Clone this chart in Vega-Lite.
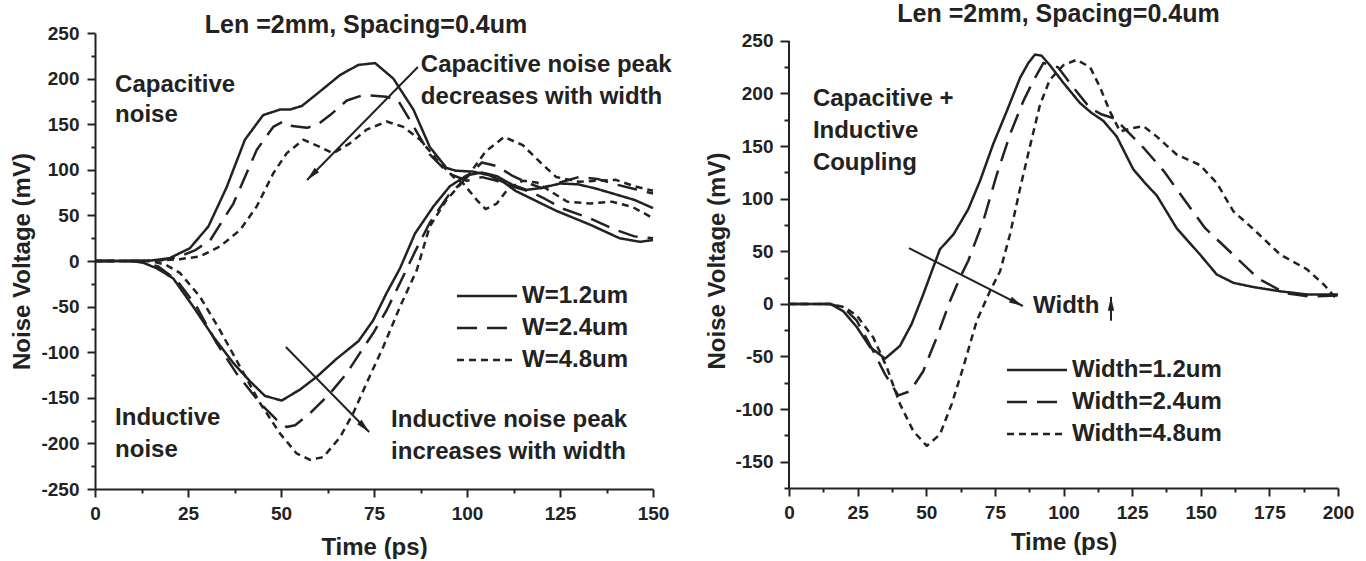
{
  "$schema": "https://vega.github.io/schema/vega-lite/v6.json",
  "background": "white",
  "padding": {"left": 10, "top": 1, "right": 0, "bottom": 0},
  "spacing": 33,
  "config": {
    "view": {"stroke": null},
    "font": "Liberation Sans",
    "axis": {"domainColor": "#222", "domainWidth": 2, "tickColor": "#222", "tickWidth": 2, "labelColor": "#222", "labelFont": "Liberation Sans", "labelFontWeight": "bold", "labelFontSize": 19, "titleColor": "#222", "titleFont": "Liberation Sans", "titleFontWeight": "bold", "titleFontSize": 24, "grid": false, "labelOverlap": false, "labelBound": false, "labelFlush": false},
    "title": {"font": "Liberation Sans", "fontSize": 25, "fontWeight": "bold", "color": "#222", "anchor": "middle"},
    "legend": {"symbolType": "M-1,0H5", "symbolSize": 400, "symbolStrokeWidth": 2.5, "symbolStrokeColor": "#222", "symbolFillColor": "transparent", "labelFont": "Liberation Sans", "labelFontSize": 24, "labelFontWeight": "bold", "labelColor": "#222", "labelOffset": 43, "rowPadding": 8, "padding": 0, "orient": "none"}
  },
  "datasets": {
    "left": [
      {"t":0,"v":0,"s":"W=1.2um","c":"cap"},{"t":10,"v":0,"s":"W=1.2um","c":"cap"},{"t":15,"v":0.5,"s":"W=1.2um","c":"cap"},{"t":20,"v":3,"s":"W=1.2um","c":"cap"},{"t":25.5,"v":14,"s":"W=1.2um","c":"cap"},{"t":30.5,"v":38,"s":"W=1.2um","c":"cap"},{"t":35.4,"v":81,"s":"W=1.2um","c":"cap"},{"t":40.3,"v":133,"s":"W=1.2um","c":"cap"},{"t":45.2,"v":160,"s":"W=1.2um","c":"cap"},{"t":49.7,"v":166,"s":"W=1.2um","c":"cap"},{"t":52.4,"v":166,"s":"W=1.2um","c":"cap"},{"t":55.6,"v":170,"s":"W=1.2um","c":"cap"},{"t":60.5,"v":186,"s":"W=1.2um","c":"cap"},{"t":65.9,"v":204,"s":"W=1.2um","c":"cap"},{"t":70.8,"v":215,"s":"W=1.2um","c":"cap"},{"t":75.3,"v":217,"s":"W=1.2um","c":"cap"},{"t":80.2,"v":200,"s":"W=1.2um","c":"cap"},{"t":85.6,"v":166,"s":"W=1.2um","c":"cap"},{"t":90,"v":125,"s":"W=1.2um","c":"cap"},{"t":94.5,"v":102,"s":"W=1.2um","c":"cap"},{"t":97,"v":99,"s":"W=1.2um","c":"cap"},{"t":101.6,"v":98,"s":"W=1.2um","c":"cap"},{"t":106,"v":94,"s":"W=1.2um","c":"cap"},{"t":110,"v":86,"s":"W=1.2um","c":"cap"},{"t":113,"v":77,"s":"W=1.2um","c":"cap"},{"t":117,"v":69,"s":"W=1.2um","c":"cap"},{"t":124,"v":55,"s":"W=1.2um","c":"cap"},{"t":133,"v":40,"s":"W=1.2um","c":"cap"},{"t":141,"v":25,"s":"W=1.2um","c":"cap"},{"t":146.5,"v":21,"s":"W=1.2um","c":"cap"},{"t":150,"v":23,"s":"W=1.2um","c":"cap"},
      {"t":0,"v":0,"s":"W=1.2um","c":"ind"},{"t":10,"v":0,"s":"W=1.2um","c":"ind"},{"t":13,"v":-2,"s":"W=1.2um","c":"ind"},{"t":16.6,"v":-8,"s":"W=1.2um","c":"ind"},{"t":21,"v":-19,"s":"W=1.2um","c":"ind"},{"t":26.4,"v":-50,"s":"W=1.2um","c":"ind"},{"t":31.8,"v":-83,"s":"W=1.2um","c":"ind"},{"t":37.2,"v":-112,"s":"W=1.2um","c":"ind"},{"t":41.7,"v":-132,"s":"W=1.2um","c":"ind"},{"t":45.7,"v":-148,"s":"W=1.2um","c":"ind"},{"t":50.2,"v":-153,"s":"W=1.2um","c":"ind"},{"t":55.1,"v":-141,"s":"W=1.2um","c":"ind"},{"t":59.6,"v":-127,"s":"W=1.2um","c":"ind"},{"t":65,"v":-107,"s":"W=1.2um","c":"ind"},{"t":70.8,"v":-88,"s":"W=1.2um","c":"ind"},{"t":74.8,"v":-65,"s":"W=1.2um","c":"ind"},{"t":78.4,"v":-35,"s":"W=1.2um","c":"ind"},{"t":82,"v":-8,"s":"W=1.2um","c":"ind"},{"t":86,"v":30,"s":"W=1.2um","c":"ind"},{"t":91,"v":60,"s":"W=1.2um","c":"ind"},{"t":95.4,"v":82,"s":"W=1.2um","c":"ind"},{"t":100,"v":94,"s":"W=1.2um","c":"ind"},{"t":104,"v":97,"s":"W=1.2um","c":"ind"},{"t":108,"v":93,"s":"W=1.2um","c":"ind"},{"t":112,"v":84,"s":"W=1.2um","c":"ind"},{"t":116,"v":78,"s":"W=1.2um","c":"ind"},{"t":120,"v":80,"s":"W=1.2um","c":"ind"},{"t":125,"v":85,"s":"W=1.2um","c":"ind"},{"t":130,"v":84,"s":"W=1.2um","c":"ind"},{"t":135,"v":79,"s":"W=1.2um","c":"ind"},{"t":140,"v":73,"s":"W=1.2um","c":"ind"},{"t":145,"v":67,"s":"W=1.2um","c":"ind"},{"t":150,"v":58,"s":"W=1.2um","c":"ind"},
      {"t":0,"v":0,"s":"W=2.4um","c":"cap"},{"t":12,"v":0,"s":"W=2.4um","c":"cap"},{"t":18,"v":1,"s":"W=2.4um","c":"cap"},{"t":22.8,"v":5,"s":"W=2.4um","c":"cap"},{"t":27,"v":12,"s":"W=2.4um","c":"cap"},{"t":31,"v":23,"s":"W=2.4um","c":"cap"},{"t":37.2,"v":63,"s":"W=2.4um","c":"cap"},{"t":43.5,"v":122,"s":"W=2.4um","c":"cap"},{"t":47.9,"v":147,"s":"W=2.4um","c":"cap"},{"t":50.6,"v":153,"s":"W=2.4um","c":"cap"},{"t":53,"v":148,"s":"W=2.4um","c":"cap"},{"t":57,"v":146,"s":"W=2.4um","c":"cap"},{"t":60,"v":150,"s":"W=2.4um","c":"cap"},{"t":63.2,"v":160,"s":"W=2.4um","c":"cap"},{"t":67.7,"v":176,"s":"W=2.4um","c":"cap"},{"t":72.1,"v":182,"s":"W=2.4um","c":"cap"},{"t":78.4,"v":180,"s":"W=2.4um","c":"cap"},{"t":81.5,"v":176,"s":"W=2.4um","c":"cap"},{"t":85,"v":152,"s":"W=2.4um","c":"cap"},{"t":90,"v":117,"s":"W=2.4um","c":"cap"},{"t":95,"v":96,"s":"W=2.4um","c":"cap"},{"t":100,"v":88,"s":"W=2.4um","c":"cap"},{"t":104,"v":92,"s":"W=2.4um","c":"cap"},{"t":108,"v":88,"s":"W=2.4um","c":"cap"},{"t":112,"v":82,"s":"W=2.4um","c":"cap"},{"t":117,"v":76,"s":"W=2.4um","c":"cap"},{"t":121,"v":68,"s":"W=2.4um","c":"cap"},{"t":126,"v":57,"s":"W=2.4um","c":"cap"},{"t":133,"v":47,"s":"W=2.4um","c":"cap"},{"t":140,"v":34,"s":"W=2.4um","c":"cap"},{"t":145,"v":27,"s":"W=2.4um","c":"cap"},{"t":150,"v":25,"s":"W=2.4um","c":"cap"},
      {"t":0,"v":0,"s":"W=2.4um","c":"ind"},{"t":12,"v":0,"s":"W=2.4um","c":"ind"},{"t":17,"v":-6,"s":"W=2.4um","c":"ind"},{"t":22,"v":-21,"s":"W=2.4um","c":"ind"},{"t":27.3,"v":-50,"s":"W=2.4um","c":"ind"},{"t":32.7,"v":-90,"s":"W=2.4um","c":"ind"},{"t":38,"v":-123,"s":"W=2.4um","c":"ind"},{"t":44.4,"v":-156,"s":"W=2.4um","c":"ind"},{"t":48.8,"v":-174,"s":"W=2.4um","c":"ind"},{"t":51.5,"v":-182,"s":"W=2.4um","c":"ind"},{"t":53.8,"v":-180,"s":"W=2.4um","c":"ind"},{"t":57.8,"v":-167,"s":"W=2.4um","c":"ind"},{"t":63.2,"v":-145,"s":"W=2.4um","c":"ind"},{"t":67.7,"v":-123,"s":"W=2.4um","c":"ind"},{"t":71.2,"v":-101,"s":"W=2.4um","c":"ind"},{"t":74.8,"v":-79,"s":"W=2.4um","c":"ind"},{"t":78.4,"v":-54,"s":"W=2.4um","c":"ind"},{"t":82,"v":-24,"s":"W=2.4um","c":"ind"},{"t":86,"v":10,"s":"W=2.4um","c":"ind"},{"t":90,"v":42,"s":"W=2.4um","c":"ind"},{"t":95,"v":72,"s":"W=2.4um","c":"ind"},{"t":100,"v":92,"s":"W=2.4um","c":"ind"},{"t":104,"v":108,"s":"W=2.4um","c":"ind"},{"t":108,"v":104,"s":"W=2.4um","c":"ind"},{"t":112,"v":94,"s":"W=2.4um","c":"ind"},{"t":116,"v":86,"s":"W=2.4um","c":"ind"},{"t":120,"v":80,"s":"W=2.4um","c":"ind"},{"t":125,"v":86,"s":"W=2.4um","c":"ind"},{"t":130,"v":92,"s":"W=2.4um","c":"ind"},{"t":135,"v":90,"s":"W=2.4um","c":"ind"},{"t":140,"v":84,"s":"W=2.4um","c":"ind"},{"t":145,"v":79,"s":"W=2.4um","c":"ind"},{"t":150,"v":74,"s":"W=2.4um","c":"ind"},
      {"t":0,"v":0,"s":"W=4.8um","c":"cap"},{"t":15,"v":0,"s":"W=4.8um","c":"cap"},{"t":22.8,"v":2,"s":"W=4.8um","c":"cap"},{"t":28.2,"v":5,"s":"W=4.8um","c":"cap"},{"t":33.6,"v":16,"s":"W=4.8um","c":"cap"},{"t":39,"v":34,"s":"W=4.8um","c":"cap"},{"t":43.5,"v":60,"s":"W=4.8um","c":"cap"},{"t":47.9,"v":96,"s":"W=4.8um","c":"cap"},{"t":51.5,"v":118,"s":"W=4.8um","c":"cap"},{"t":56,"v":133,"s":"W=4.8um","c":"cap"},{"t":60.5,"v":125,"s":"W=4.8um","c":"cap"},{"t":64,"v":118,"s":"W=4.8um","c":"cap"},{"t":68.5,"v":129,"s":"W=4.8um","c":"cap"},{"t":73,"v":144,"s":"W=4.8um","c":"cap"},{"t":78.4,"v":153,"s":"W=4.8um","c":"cap"},{"t":82.9,"v":147,"s":"W=4.8um","c":"cap"},{"t":87.4,"v":133,"s":"W=4.8um","c":"cap"},{"t":91.9,"v":111,"s":"W=4.8um","c":"cap"},{"t":96.4,"v":92,"s":"W=4.8um","c":"cap"},{"t":99,"v":85,"s":"W=4.8um","c":"cap"},{"t":102.6,"v":67,"s":"W=4.8um","c":"cap"},{"t":105,"v":57,"s":"W=4.8um","c":"cap"},{"t":108,"v":63,"s":"W=4.8um","c":"cap"},{"t":111,"v":79,"s":"W=4.8um","c":"cap"},{"t":115,"v":88,"s":"W=4.8um","c":"cap"},{"t":118.8,"v":86,"s":"W=4.8um","c":"cap"},{"t":123,"v":75,"s":"W=4.8um","c":"cap"},{"t":127,"v":65,"s":"W=4.8um","c":"cap"},{"t":133,"v":63,"s":"W=4.8um","c":"cap"},{"t":139,"v":65,"s":"W=4.8um","c":"cap"},{"t":144.6,"v":59,"s":"W=4.8um","c":"cap"},{"t":150,"v":47,"s":"W=4.8um","c":"cap"},
      {"t":0,"v":0,"s":"W=4.8um","c":"ind"},{"t":15,"v":0,"s":"W=4.8um","c":"ind"},{"t":19,"v":-4,"s":"W=4.8um","c":"ind"},{"t":22.8,"v":-13,"s":"W=4.8um","c":"ind"},{"t":28.2,"v":-39,"s":"W=4.8um","c":"ind"},{"t":33.6,"v":-76,"s":"W=4.8um","c":"ind"},{"t":39,"v":-116,"s":"W=4.8um","c":"ind"},{"t":44.4,"v":-156,"s":"W=4.8um","c":"ind"},{"t":49.7,"v":-189,"s":"W=4.8um","c":"ind"},{"t":54.2,"v":-211,"s":"W=4.8um","c":"ind"},{"t":57.8,"v":-218,"s":"W=4.8um","c":"ind"},{"t":61.4,"v":-215,"s":"W=4.8um","c":"ind"},{"t":65.9,"v":-193,"s":"W=4.8um","c":"ind"},{"t":69.4,"v":-167,"s":"W=4.8um","c":"ind"},{"t":73,"v":-134,"s":"W=4.8um","c":"ind"},{"t":77.5,"v":-94,"s":"W=4.8um","c":"ind"},{"t":82,"v":-50,"s":"W=4.8um","c":"ind"},{"t":86.5,"v":-10,"s":"W=4.8um","c":"ind"},{"t":90,"v":38,"s":"W=4.8um","c":"ind"},{"t":94.5,"v":67,"s":"W=4.8um","c":"ind"},{"t":100,"v":92,"s":"W=4.8um","c":"ind"},{"t":105,"v":120,"s":"W=4.8um","c":"ind"},{"t":110,"v":136,"s":"W=4.8um","c":"ind"},{"t":115,"v":127,"s":"W=4.8um","c":"ind"},{"t":120,"v":107,"s":"W=4.8um","c":"ind"},{"t":124,"v":92,"s":"W=4.8um","c":"ind"},{"t":130,"v":87,"s":"W=4.8um","c":"ind"},{"t":135,"v":88,"s":"W=4.8um","c":"ind"},{"t":140,"v":89,"s":"W=4.8um","c":"ind"},{"t":145,"v":82,"s":"W=4.8um","c":"ind"},{"t":150,"v":77,"s":"W=4.8um","c":"ind"}
    ],
    "leftText": [
      {"t":5.4,"v":193,"txt":"Capacitive"},{"t":5.4,"v":160,"txt":"noise"},
      {"t":5.4,"v":-172,"txt":"Inductive"},{"t":5.4,"v":-207,"txt":"noise"},
      {"t":87.6,"v":215,"txt":"Capacitive noise peak"},{"t":87.6,"v":180,"txt":"decreases with width"},
      {"t":79.6,"v":-174,"txt":"Inductive noise peak"},{"t":79.6,"v":-209,"txt":"increases with width"}
    ],
    "leftArrows": [
      {"id":"cap","t":86.8,"v":212.7,"t2":57,"v2":88.8},
      {"id":"ind","t":51.3,"v":-94.3,"t2":73.7,"v2":-187.5}
    ],
    "leftHeads": [
      {"id":"cap","t":57,"v":88.8},
      {"id":"ind","t":73.7,"v":-187.5}
    ],
    "right": [
      {"t":0,"v":0,"s":"Width=1.2um"},{"t":15,"v":0,"s":"Width=1.2um"},{"t":19.8,"v":-7,"s":"Width=1.2um"},{"t":24.7,"v":-22,"s":"Width=1.2um"},{"t":29.5,"v":-41,"s":"Width=1.2um"},{"t":35,"v":-52,"s":"Width=1.2um"},{"t":40.4,"v":-40,"s":"Width=1.2um"},{"t":44.7,"v":-19,"s":"Width=1.2um"},{"t":48.9,"v":9,"s":"Width=1.2um"},{"t":52,"v":31,"s":"Width=1.2um"},{"t":55,"v":52,"s":"Width=1.2um"},{"t":59.9,"v":66,"s":"Width=1.2um"},{"t":65.3,"v":90,"s":"Width=1.2um"},{"t":69.6,"v":117,"s":"Width=1.2um"},{"t":74.4,"v":152,"s":"Width=1.2um"},{"t":79.3,"v":183,"s":"Width=1.2um"},{"t":84.2,"v":215,"s":"Width=1.2um"},{"t":87.2,"v":229,"s":"Width=1.2um"},{"t":89.6,"v":237,"s":"Width=1.2um"},{"t":92,"v":236,"s":"Width=1.2um"},{"t":95,"v":227,"s":"Width=1.2um"},{"t":100,"v":210,"s":"Width=1.2um"},{"t":106,"v":191,"s":"Width=1.2um"},{"t":110,"v":182,"s":"Width=1.2um"},{"t":114.5,"v":174,"s":"Width=1.2um"},{"t":119.4,"v":159,"s":"Width=1.2um"},{"t":125.4,"v":128,"s":"Width=1.2um"},{"t":130,"v":114,"s":"Width=1.2um"},{"t":134,"v":103,"s":"Width=1.2um"},{"t":141.2,"v":72,"s":"Width=1.2um"},{"t":149.7,"v":47,"s":"Width=1.2um"},{"t":155.8,"v":28,"s":"Width=1.2um"},{"t":161.9,"v":20,"s":"Width=1.2um"},{"t":169.2,"v":16,"s":"Width=1.2um"},{"t":178.9,"v":12,"s":"Width=1.2um"},{"t":188.6,"v":9,"s":"Width=1.2um"},{"t":200,"v":9,"s":"Width=1.2um"},
      {"t":0,"v":0,"s":"Width=2.4um"},{"t":15,"v":0,"s":"Width=2.4um"},{"t":20,"v":-4,"s":"Width=2.4um"},{"t":24.7,"v":-16,"s":"Width=2.4um"},{"t":30.7,"v":-45,"s":"Width=2.4um"},{"t":35,"v":-67,"s":"Width=2.4um"},{"t":39.8,"v":-87,"s":"Width=2.4um"},{"t":44.1,"v":-83,"s":"Width=2.4um"},{"t":48.9,"v":-64,"s":"Width=2.4um"},{"t":53.8,"v":-32,"s":"Width=2.4um"},{"t":58.7,"v":3,"s":"Width=2.4um"},{"t":62.3,"v":25,"s":"Width=2.4um"},{"t":65.3,"v":41,"s":"Width=2.4um"},{"t":70.8,"v":79,"s":"Width=2.4um"},{"t":75.7,"v":123,"s":"Width=2.4um"},{"t":80.5,"v":161,"s":"Width=2.4um"},{"t":85.4,"v":193,"s":"Width=2.4um"},{"t":89,"v":212,"s":"Width=2.4um"},{"t":92.7,"v":229,"s":"Width=2.4um"},{"t":98,"v":225,"s":"Width=2.4um"},{"t":104.4,"v":203,"s":"Width=2.4um"},{"t":109.7,"v":186,"s":"Width=2.4um"},{"t":114,"v":180,"s":"Width=2.4um"},{"t":118.8,"v":176,"s":"Width=2.4um"},{"t":124,"v":162,"s":"Width=2.4um"},{"t":129.3,"v":148,"s":"Width=2.4um"},{"t":136.6,"v":126,"s":"Width=2.4um"},{"t":144.3,"v":98,"s":"Width=2.4um"},{"t":151.6,"v":72,"s":"Width=2.4um"},{"t":161.3,"v":48,"s":"Width=2.4um"},{"t":171,"v":24,"s":"Width=2.4um"},{"t":181,"v":10,"s":"Width=2.4um"},{"t":190,"v":7,"s":"Width=2.4um"},{"t":200,"v":8,"s":"Width=2.4um"},
      {"t":0,"v":0,"s":"Width=4.8um"},{"t":15,"v":0,"s":"Width=4.8um"},{"t":20,"v":-3,"s":"Width=4.8um"},{"t":24.7,"v":-11,"s":"Width=4.8um"},{"t":30.7,"v":-32,"s":"Width=4.8um"},{"t":35.6,"v":-60,"s":"Width=4.8um"},{"t":40.4,"v":-95,"s":"Width=4.8um"},{"t":45.3,"v":-121,"s":"Width=4.8um"},{"t":50.2,"v":-135,"s":"Width=4.8um"},{"t":55,"v":-124,"s":"Width=4.8um"},{"t":59.3,"v":-95,"s":"Width=4.8um"},{"t":63.5,"v":-60,"s":"Width=4.8um"},{"t":68.4,"v":-16,"s":"Width=4.8um"},{"t":73.2,"v":12,"s":"Width=4.8um"},{"t":76.9,"v":31,"s":"Width=4.8um"},{"t":80.5,"v":66,"s":"Width=4.8um"},{"t":84.2,"v":110,"s":"Width=4.8um"},{"t":87.8,"v":150,"s":"Width=4.8um"},{"t":91.4,"v":189,"s":"Width=4.8um"},{"t":95,"v":213,"s":"Width=4.8um"},{"t":100,"v":227,"s":"Width=4.8um"},{"t":104.8,"v":232,"s":"Width=4.8um"},{"t":109.7,"v":225,"s":"Width=4.8um"},{"t":113.3,"v":206,"s":"Width=4.8um"},{"t":116.9,"v":183,"s":"Width=4.8um"},{"t":120.6,"v":164,"s":"Width=4.8um"},{"t":125,"v":167,"s":"Width=4.8um"},{"t":129.1,"v":169,"s":"Width=4.8um"},{"t":134,"v":159,"s":"Width=4.8um"},{"t":141.2,"v":142,"s":"Width=4.8um"},{"t":149.7,"v":132,"s":"Width=4.8um"},{"t":155.8,"v":115,"s":"Width=4.8um"},{"t":161.9,"v":88,"s":"Width=4.8um"},{"t":169.2,"v":71,"s":"Width=4.8um"},{"t":178.9,"v":47,"s":"Width=4.8um"},{"t":188.6,"v":33,"s":"Width=4.8um"},{"t":195,"v":18,"s":"Width=4.8um"},{"t":200,"v":3,"s":"Width=4.8um"}
    ],
    "rightText": [
      {"t":8.7,"v":195,"txt":"Capacitive +"},{"t":8.7,"v":164.5,"txt":"Inductive"},{"t":8.7,"v":134,"txt":"Coupling"},
      {"t":88.9,"v":-2,"txt":"Width"}
    ],
    "rightArrows": [
      {"id":"w","t":43.7,"v":53,"t2":85.2,"v2":-2},
      {"id":"up","t":117.3,"v":-16,"t2":117.3,"v2":6.7}
    ],
    "rightHeads": [
      {"id":"w","t":85.2,"v":-2},
      {"id":"up","t":117.3,"v":6.7}
    ],
    "rightAxis": [
      {"t":0,"v":-175,"v2":250}
    ]
  },
  "hconcat": [
    {
      "width": 558,
      "height": 456,
      "title": {"text": "Len =2mm, Spacing=0.4um", "offset": -14, "dx": -8},
      "encoding": {
        "x": {"field": "t", "type": "quantitative", "scale": {"domain": [0, 150], "nice": false, "zero": false},
              "axis": {"title": "Time (ps)", "values": [0,12.5,25,37.5,50,62.5,75,87.5,100,112.5,125,137.5,150], "labelExpr": "datum.value % 25 === 0 ? '' + datum.value : ''", "tickSize": {"condition": {"test": "datum.value % 25 !== 0", "value": 4}, "value": 8}, "labelPadding": 7, "titlePadding": 12}},
        "y": {"field": "v", "type": "quantitative", "scale": {"domain": [-250, 250], "nice": false, "zero": false},
              "axis": {"title": "Noise Voltage (mV)", "values": [-250,-225,-200,-175,-150,-125,-100,-75,-50,-25,0,25,50,75,100,125,150,175,200,225,250], "labelExpr": "datum.value % 50 === 0 ? '' + datum.value : ''", "tickSize": {"condition": {"test": "datum.value % 50 !== 0", "value": 4}, "value": 8}, "labelPadding": 8, "titlePadding": 6}}
      },
      "layer": [
        {
          "data": {"name": "left"},
          "mark": {"type": "line", "strokeWidth": 2.5, "color": "#222", "strokeCap": "butt", "strokeJoin": "round"},
          "encoding": {
            "strokeDash": {"field": "s", "type": "nominal", "scale": {"domain": ["W=1.2um", "W=2.4um", "W=4.8um"], "range": [[1, 0], [20, 10], [7, 5]]}, "legend": {"title": null, "orient": "none", "legendX": 360, "legendY": 251}},
            "detail": {"field": "c", "type": "nominal"}
          }
        },
        {
          "data": {"name": "leftText"},
          "mark": {"type": "text", "align": "left", "baseline": "middle", "font": "Liberation Sans", "fontSize": 24, "fontWeight": "bold", "color": "#222"},
          "encoding": {"text": {"field": "txt"}}
        },
        {
          "data": {"name": "leftArrows"},
          "mark": {"type": "rule", "strokeWidth": 2, "color": "#222"},
          "encoding": {"x2": {"field": "t2"}, "y2": {"field": "v2"}}
        },
        {
          "data": {"name": "leftHeads"},
          "transform": [{"filter": "datum.id === 'cap'"}],
          "mark": {"type": "point", "shape": "M-2,-0.45L0,0L-2,0.45Z", "size": 196, "filled": true, "color": "#222", "opacity": 1, "angle": 134.5}
        },
        {
          "data": {"name": "leftHeads"},
          "transform": [{"filter": "datum.id === 'ind'"}],
          "mark": {"type": "point", "shape": "M-2,-0.45L0,0L-2,0.45Z", "size": 196, "filled": true, "color": "#222", "opacity": 1, "angle": 45.7}
        }
      ]
    },
    {
      "width": 549,
      "height": 455,
      "title": {"text": "Len =2mm, Spacing=0.4um", "offset": 5, "dx": -5},
      "encoding": {
        "x": {"field": "t", "type": "quantitative", "scale": {"domain": [0, 200], "nice": false, "zero": false},
              "axis": {"title": "Time (ps)", "values": [0,12.5,25,37.5,50,62.5,75,87.5,100,112.5,125,137.5,150,162.5,175,187.5,200], "labelExpr": "datum.value % 25 === 0 ? '' + datum.value : ''", "tickSize": {"condition": {"test": "datum.value % 25 !== 0", "value": 4}, "value": 8}, "labelPadding": 7, "titlePadding": 8}},
        "y": {"field": "v", "type": "quantitative", "scale": {"domain": [-175, 257.5], "nice": false, "zero": false},
              "axis": {"title": "Noise Voltage (mV)", "domain": false, "values": [-175,-150,-125,-100,-75,-50,-25,0,25,50,75,100,125,150,175,200,225,250], "labelExpr": "datum.value % 50 === 0 ? '' + datum.value : ''", "tickSize": {"condition": {"test": "datum.value % 50 !== 0", "value": 5}, "value": 9}, "labelPadding": 7, "titlePadding": 5}}
      },
      "layer": [
        {
          "data": {"name": "rightAxis"},
          "mark": {"type": "rule", "strokeWidth": 2, "color": "#222"},
          "encoding": {"y2": {"field": "v2"}}
        },
        {
          "data": {"name": "right"},
          "mark": {"type": "line", "strokeWidth": 2.5, "color": "#222", "strokeCap": "butt", "strokeJoin": "round"},
          "encoding": {
            "strokeDash": {"field": "s", "type": "nominal", "scale": {"domain": ["Width=1.2um", "Width=2.4um", "Width=4.8um"], "range": [[1, 0], [20, 10], [7, 5]]}, "legend": {"title": null, "orient": "none", "legendX": 216, "legendY": 325}}
          }
        },
        {
          "data": {"name": "rightText"},
          "mark": {"type": "text", "align": "left", "baseline": "middle", "font": "Liberation Sans", "fontSize": 24, "fontWeight": "bold", "color": "#222"},
          "encoding": {"text": {"field": "txt"}}
        },
        {
          "data": {"name": "rightArrows"},
          "mark": {"type": "rule", "strokeWidth": 2, "color": "#222"},
          "encoding": {"x2": {"field": "t2"}, "y2": {"field": "v2"}}
        },
        {
          "data": {"name": "rightHeads"},
          "transform": [{"filter": "datum.id === 'w'"}],
          "mark": {"type": "point", "shape": "M-2,-0.45L0,0L-2,0.45Z", "size": 196, "filled": true, "color": "#222", "opacity": 1, "angle": 27}
        },
        {
          "data": {"name": "rightHeads"},
          "transform": [{"filter": "datum.id === 'up'"}],
          "mark": {"type": "point", "shape": "M-2,-0.45L0,0L-2,0.45Z", "size": 196, "filled": true, "color": "#222", "opacity": 1, "angle": -90}
        }
      ]
    }
  ],
  "resolve": {"scale": {"strokeDash": "independent"}, "legend": {"strokeDash": "independent"}}
}
